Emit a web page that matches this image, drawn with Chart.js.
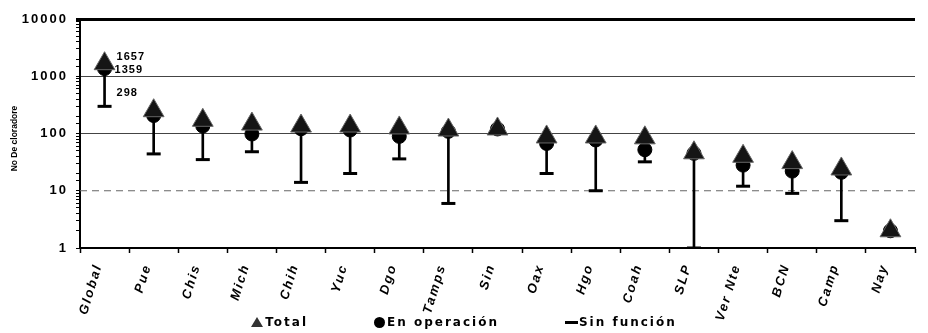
<!DOCTYPE html>
<html>
<head>
<meta charset="utf-8">
<script src="https://cdn.jsdelivr.net/npm/chart.js@4/dist/chart.umd.min.js"></script>
<style>
  body { margin: 0; background: #fff; }
  #marco { position: relative; width: 928px; height: 333px; }
  #leyenda {
    position: absolute; top: 315px; left: 0; width: 928px;
    display: flex; justify-content: center; gap: 66px;
    font: bold 12px "DejaVu Sans", sans-serif; letter-spacing: 2px; color: #000;
    line-height: 14px;
  }
  #leyenda span.item { display: flex; align-items: center; }
  .tri { width: 0; height: 0; border-left: 6px solid transparent; border-right: 6px solid transparent; border-bottom: 10px solid #333; margin-right: 2px; }
  .circ { width: 11px; height: 11px; border-radius: 50%; background: #000; margin-right: 2px; }
  .lin { width: 13px; height: 3px; background: #000; margin-right: 1px; }
</style>
</head>
<body>
<div id="marco">
  <canvas id="grafica" width="928" height="333"></canvas>
  <div id="leyenda"></div>
</div>
<script>
// Datos (escala logarítmica)
const estados = ['Global', 'Pue', 'Chis', 'Mich', 'Chih', 'Yuc', 'Dgo', 'Tamps', 'Sin', 'Oax', 'Hgo', 'Coah', 'SLP', 'Ver Nte', 'BCN', 'Camp', 'Nay'];
const total = [1657, 250, 170, 146, 135, 135, 125, 115, 120, 87, 87, 84, 46, 40, 31, 24, 2];
const enOperacion = [1359, 206, 135, 98, 121, 115, 89, 109, 120, 67, 77, 52, 45, 28, 22, 21, 2];
const sinFuncion = [298, 44, 35, 48, 14, 20, 36, 6, null, 20, 10, 32, 1, 12, 9, 3, null];
const ticksY = [1, 10, 100, 1000, 10000];
const series = ['Total', 'En operación', 'Sin función'];
const etiquetasGlobal = [1657, 1359, 298];

// líneas verticales entre total y sin función
const tallos = total.map((t, i) => sinFuncion[i] == null ? null : [sinFuncion[i], t]);

// espaciado entre letras como en el original
const espaciado = {
  id: 'espaciado',
  beforeUpdate(chart) { chart.ctx.letterSpacing = '2px'; },
  beforeDraw(chart) { chart.ctx.letterSpacing = '2px'; }
};

const extras = {
  id: 'extras',
  beforeDatasetsDraw(chart) {
    const { ctx, chartArea, scales } = chart;
    const y10 = scales.y.getPixelForValue(10);
    ctx.save();
    ctx.strokeStyle = '#666';
    ctx.lineWidth = 1;
    ctx.setLineDash([7, 5]);
    ctx.beginPath();
    ctx.moveTo(chartArea.left, y10);
    ctx.lineTo(chartArea.right, y10);
    ctx.stroke();
    ctx.restore();
  },
  afterDraw(chart) {
    const { ctx, chartArea, scales } = chart;
    ctx.save();
    // etiquetas de Global
    ctx.letterSpacing = '1px';
    ctx.font = 'bold 11px "Liberation Sans"';
    ctx.fillStyle = '#000';
    ctx.textAlign = 'left';
    ctx.textBaseline = 'middle';
    const x0 = scales.x.getPixelForValue(0);
    const desp = [[12, -7], [10, 1], [12, -13]];
    etiquetasGlobal.forEach((v, i) => {
      ctx.fillText(String(v), x0 + desp[i][0], scales.y.getPixelForValue(v) + desp[i][1]);
    });
    // título del eje Y
    ctx.letterSpacing = '0px';
    ctx.font = 'bold 8.5px "Liberation Sans"';
    ctx.translate(15, (chartArea.top + chartArea.bottom) / 2 + 5);
    ctx.rotate(-Math.PI / 2);
    ctx.textAlign = 'center';
    ctx.fillText('No De cloradore', 0, 0);
    ctx.restore();
  }
};

new Chart(document.getElementById('grafica'), {
  data: {
    labels: estados,
    datasets: [
      {
        type: 'line', label: series[0], data: total, showLine: false,
        pointStyle: 'triangle', pointRadius: 12, pointBackgroundColor: '#151515', pointBorderColor: '#666', pointBorderWidth: 1, order: 0
      },
      {
        type: 'line', label: series[1], data: enOperacion, showLine: false,
        pointStyle: 'circle', pointRadius: 7, pointBackgroundColor: '#000', pointBorderColor: '#000', order: 1
      },
      {
        type: 'line', label: series[2], data: sinFuncion, showLine: false,
        pointStyle: 'line', pointRadius: 7, pointBorderColor: '#000', pointBorderWidth: 3, order: 2
      },
      {
        type: 'bar', label: 'rango', data: tallos, backgroundColor: '#000', barThickness: 2, order: 3
      }
    ]
  },
  options: {
    responsive: false,
    animation: false,
    events: [],
    layout: { padding: { top: 19, right: 0, bottom: 0, left: 0 } },
    plugins: { legend: { display: false }, tooltip: { enabled: false } },
    scales: {
      x: {
        type: 'category',
        offset: true,
        afterFit(scale) { scale.height = 85; },
        grid: { display: true, drawOnChartArea: false, offset: true, tickLength: 5, tickColor: '#000', tickWidth: 1.5 },
        border: { color: '#000', width: 2 },
        ticks: {
          color: '#000', minRotation: 73, maxRotation: 73, autoSkip: false, padding: 9, labelOffset: -6,
          font: { family: 'Liberation Sans', size: 13, weight: 'bold', style: 'italic' }
        }
      },
      y: {
        type: 'logarithmic',
        min: 1,
        max: 10000,
        afterFit(scale) { scale.width = 80; },
        border: { color: '#000', width: 2 },
        grid: {
          color: c => c.tick.value === 10000 ? '#000' : (c.tick.value === 1000 || c.tick.value === 100 ? '#444' : 'rgba(0,0,0,0)'),
          lineWidth: c => c.tick.value === 10000 ? 3 : 1,
          tickColor: '#000',
          tickLength: 4
        },
        ticks: {
          color: '#000', autoSkip: false, padding: 8,
          font: { family: 'Liberation Sans', size: 13, weight: 'bold' },
          callback: v => ticksY.includes(v) ? String(v) : ''
        }
      }
    }
  },
  plugins: [espaciado, extras]
});

// leyenda en HTML
const marcas = ['tri', 'circ', 'lin'];
document.getElementById('leyenda').innerHTML = series
  .map((s, i) => `<span class="item"><span class="${marcas[i]}"></span>${s}</span>`)
  .join('');
</script>
</body>
</html>
